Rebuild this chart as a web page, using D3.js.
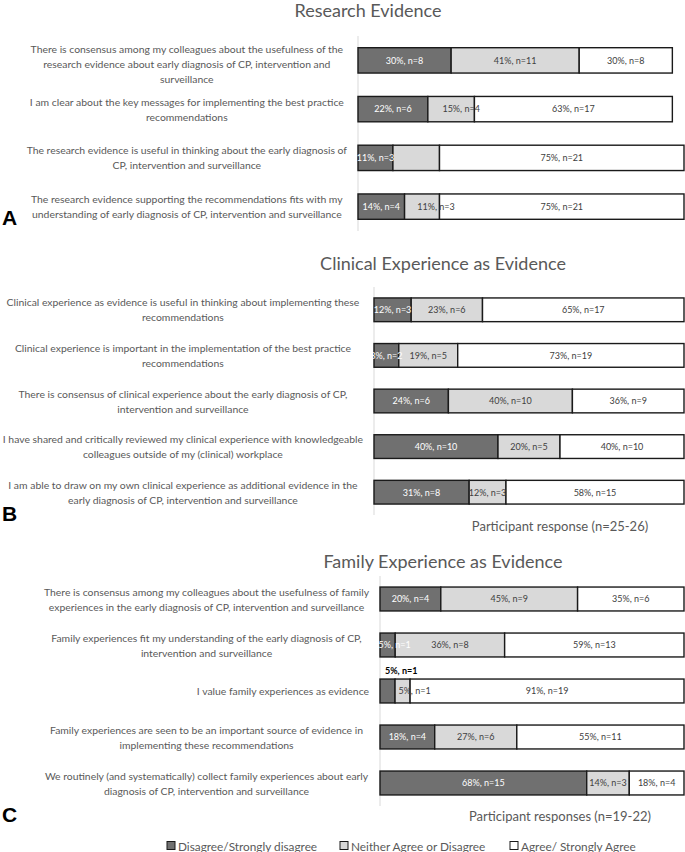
<!DOCTYPE html>
<html>
<head>
<meta charset="utf-8">
<script src="https://cdn.jsdelivr.net/npm/d3@7"></script>
<style>
  body { margin: 0; background: #fff; }
</style>
</head>
<body>
<svg id="chart" width="685" height="852"></svg>
<script>
// ---- Data ----
const seriesKeys = ["dis", "neu", "agr"];
const seriesNames = ["Disagree/Strongly disagree", "Neither Agree or Disagree", "Agree/ Strongly Agree"];

// A: Research Evidence (bars drawn by counts)
const researchLabels = [
  ["There is consensus among my colleagues about the usefulness of the", "research evidence about early diagnosis of CP, intervention and", "surveillance"],
  ["I am clear about the key messages for implementing  the best practice", "recommendations"],
  ["The research evidence is useful in thinking about the early diagnosis of", "CP, intervention and surveillance"],
  ["The research evidence supporting the recommendations fits with my", "understanding of early diagnosis of CP, intervention and surveillance"]
];
const researchDisN = [8, 6, 3, 4];
const researchNeuN = [11, 4, 4, 3];
const researchAgrN = [8, 17, 21, 21];
const researchDisPct = [30, 22, 11, 14];
const researchNeuPct = [41, 15, null, 11];
const researchAgrPct = [30, 63, 75, 75];

// B: Clinical Experience as Evidence (100% bars)
const clinicalLabels = [
  ["Clinical experience as evidence is useful in thinking about implementing these", "recommendations"],
  ["Clinical experience is important in the implementation of the best practice", "recommendations"],
  ["There is consensus of clinical experience about the early diagnosis of CP,", "intervention and surveillance"],
  ["I have shared and critically reviewed my clinical experience with knowledgeable", "colleagues outside of my (clinical) workplace"],
  ["I am able to draw on my own clinical experience as additional evidence in the", "early diagnosis of CP, intervention and surveillance"]
];
const clinicalDisPct = [12, 8, 24, 40, 31];
const clinicalNeuPct = [23, 19, 40, 20, 12];
const clinicalAgrPct = [65, 73, 36, 40, 58];
const clinicalDisN = [3, 2, 6, 10, 8];
const clinicalNeuN = [6, 5, 10, 5, 3];
const clinicalAgrN = [17, 19, 9, 10, 15];

// C: Family Experience as Evidence (100% bars)
const familyLabels = [
  ["There is consensus among my colleagues about the usefulness of family", "experiences in the early diagnosis of CP, intervention and surveillance"],
  ["Family experiences fit my understanding of the early diagnosis of CP,", "intervention and surveillance"],
  ["I value family experiences as evidence"],
  ["Family experiences are seen to be an important source of evidence in", "implementing these recommendations"],
  ["We routinely (and systematically) collect family experiences about early", "diagnosis of CP, intervention and surveillance"]
];
const familyDisPct = [20, 5, 5, 18, 68];
const familyNeuPct = [45, 36, 5, 27, 14];
const familyAgrPct = [35, 59, 91, 55, 18];
const familyDisN = [4, 1, 1, 4, 15];
const familyNeuN = [9, 8, 1, 6, 3];
const familyAgrN = [6, 13, 19, 11, 4];

// ---- Styles ----
const fills = { dis: "#707070", neu: "#d9d9d9", agr: "#ffffff" };
const textGrey = "#595959";
const font = "Lato, 'Open Sans', sans-serif";

// label nudges (panel-row-series) for labels moved by hand in the original
const nudges = {
  "A-1-neu": { dx: 10 },
  "A-3-neu": { dx: 14 },
  "C-1-dis": { dx: 7 },
  "C-2-dis": { above: true },
  "C-2-neu": { dx: 12 }
};

const panels = [
  { id: "A", title: "Research Evidence", titleX: 368, titleY: 17, letterY: 225,
    axisX: 358, yTop: 36, yBot: 231, mode: "count",
    labels: researchLabels,
    values: { dis: researchDisN, neu: researchNeuN, agr: researchAgrN },
    pct: { dis: researchDisPct, neu: researchNeuPct, agr: researchAgrPct },
    n: { dis: researchDisN, neu: researchNeuN, agr: researchAgrN } },
  { id: "B", title: "Clinical Experience as Evidence", titleX: 443, titleY: 270, letterY: 521,
    axisX: 374, yTop: 287, yBot: 515, mode: "pct",
    xTitle: "Participant response (n=25-26)", xTitleY: 531,
    labels: clinicalLabels,
    values: { dis: clinicalDisPct, neu: clinicalNeuPct, agr: clinicalAgrPct },
    pct: { dis: clinicalDisPct, neu: clinicalNeuPct, agr: clinicalAgrPct },
    n: { dis: clinicalDisN, neu: clinicalNeuN, agr: clinicalAgrN } },
  { id: "C", title: "Family Experience as Evidence", titleX: 443, titleY: 568, letterY: 822,
    axisX: 380, yTop: 576, yBot: 806, mode: "pct",
    xTitle: "Participant responses (n=19-22)", xTitleY: 821,
    labels: familyLabels,
    values: { dis: familyDisPct, neu: familyNeuPct, agr: familyAgrPct },
    pct: { dis: familyDisPct, neu: familyNeuPct, agr: familyAgrPct },
    n: { dis: familyDisN, neu: familyNeuN, agr: familyAgrN } }
];

const svg = d3.select("#chart");
const rightEdge = 684;

panels.forEach(p => {
  const rows = p.labels.map((lab, i) => ({
    i: i, lines: lab,
    dis: p.values.dis[i], neu: p.values.neu[i], agr: p.values.agr[i]
  }));

  const stack = d3.stack()
    .keys(seriesKeys)
    .offset(p.mode === "pct" ? d3.stackOffsetExpand : d3.stackOffsetNone);
  const layers = stack(rows);

  const maxTotal = p.mode === "pct" ? 1 : d3.max(rows, r => r.dis + r.neu + r.agr);
  const x = d3.scaleLinear().domain([0, maxTotal]).range([p.axisX, rightEdge]);
  const y = d3.scaleBand().domain(rows.map(r => r.i))
    .range([p.yTop, p.yBot]).paddingInner(0.48).paddingOuter(0.24);

  const g = svg.append("g");

  // title
  g.append("text")
    .attr("x", p.titleX).attr("y", p.titleY)
    .attr("text-anchor", "middle")
    .style("font-family", font).style("font-size", "18px")
    .style("fill", textGrey)
    .text(p.title);

  // panel letter
  g.append("text")
    .attr("x", 2).attr("y", p.letterY)
    .style("font-family", "'Liberation Sans', Arial, sans-serif")
    .style("font-weight", "bold").style("font-size", "21px")
    .style("fill", "#000")
    .text(p.id);

  // vertical axis line
  g.append("line")
    .attr("x1", p.axisX).attr("x2", p.axisX)
    .attr("y1", p.yTop).attr("y2", p.yBot)
    .attr("stroke", "#d9d9d9").attr("stroke-width", 1);

  // bars
  layers.forEach(layer => {
    const key = layer.key;
    g.append("g").selectAll("rect")
      .data(layer)
      .join("rect")
      .attr("x", d => x(d[0]))
      .attr("y", d => y(d.data.i))
      .attr("width", d => x(d[1]) - x(d[0]))
      .attr("height", y.bandwidth())
      .attr("fill", fills[key])
      .attr("stroke", "#1a1a1a")
      .attr("stroke-width", 1.4);
  });

  // bar labels
  layers.forEach(layer => {
    const key = layer.key;
    g.append("g").selectAll("text")
      .data(layer.filter(d => p.pct[key][d.data.i] != null))
      .join("text")
      .each(function (d) {
        const i = d.data.i;
        const nd = nudges[p.id + "-" + i + "-" + key] || {};
        const t = d3.select(this);
        const cx = (x(d[0]) + x(d[1])) / 2 + (nd.dx || 0);
        if (nd.above) {
          t.attr("x", x(d[0]) + 5).attr("y", y(i) - 5)
            .attr("text-anchor", "start")
            .style("fill", "#000").style("font-weight", "bold");
        } else {
          t.attr("x", cx).attr("y", y(i) + y.bandwidth() / 2 + 3.3)
            .attr("text-anchor", "middle")
            .style("fill", key === "dis" ? "#ffffff" : "#404040");
        }
        t.style("font-family", font).style("font-size", "9px")
          .text(p.pct[key][i] + "%, n=" + p.n[key][i]);
      });
  });

  // category labels (wrapped lines, centered within the label box)
  const labelG = g.append("g")
    .style("font-family", font).style("font-size", "10.4px").style("fill", textGrey);
  const gap = 11, lineH = 15;
  const texts = labelG.selectAll("text")
    .data(rows)
    .join("text")
    .attr("y", d => y(d.i) + y.bandwidth() / 2 + (d.lines.length > 2 ? 4 : 0));
  texts.each(function (d) {
    const t = d3.select(this);
    d.lines.forEach((line, k) => {
      t.append("tspan")
        .attr("dy", k === 0 ? ((-(d.lines.length - 1) / 2) * lineH + 4) : lineH)
        .text(line);
    });
  });
  let maxW = 0;
  labelG.selectAll("tspan").each(function () {
    maxW = Math.max(maxW, this.getComputedTextLength());
  });
  texts.each(function (d) {
    const t = d3.select(this);
    if (d.lines.length === 1) {
      t.attr("text-anchor", "end");
      t.selectAll("tspan").attr("x", p.axisX - gap);
    } else {
      t.attr("text-anchor", "middle");
      t.selectAll("tspan").attr("x", p.axisX - gap - maxW / 2);
    }
  });

  // x axis title
  if (p.xTitle) {
    g.append("text")
      .attr("x", 560).attr("y", p.xTitleY)
      .attr("text-anchor", "middle")
      .style("font-family", font).style("font-size", "13px")
      .style("fill", textGrey)
      .text(p.xTitle);
  }
});

// legend
const legendX = [167, 340, 510];
const legend = svg.append("g").attr("transform", "translate(0,846)");
const items = legend.selectAll("g")
  .data(seriesKeys)
  .join("g")
  .attr("transform", (d, i) => `translate(${legendX[i]},0)`);
items.append("rect")
  .attr("x", 0).attr("y", -4.5).attr("width", 8).attr("height", 8)
  .attr("fill", d => fills[d]).attr("stroke", "#1a1a1a").attr("stroke-width", 1);
items.append("text")
  .attr("x", 11).attr("y", 4.5)
  .style("font-family", font).style("font-size", "11.8px")
  .style("fill", textGrey)
  .text((d, i) => seriesNames[i]);
</script>
</body>
</html>
